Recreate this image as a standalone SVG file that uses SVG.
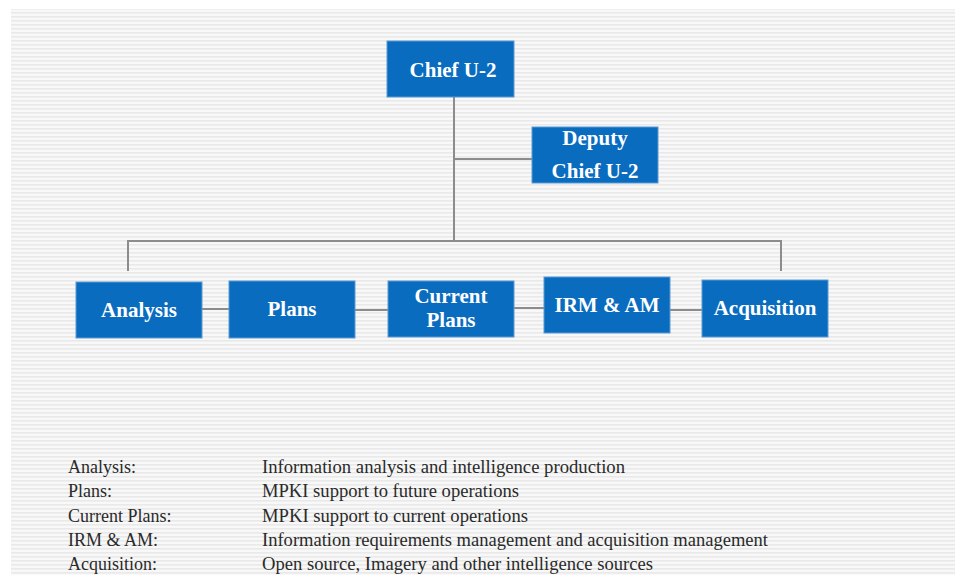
<svg xmlns="http://www.w3.org/2000/svg" width="955" height="575" viewBox="0 0 955 575">
<defs>
<pattern id="stripes" x="0" y="0" width="10" height="4" patternUnits="userSpaceOnUse">
<rect width="10" height="4" fill="#f8f8f8"/>
<rect y="0" width="10" height="1.6" fill="#e9e9e9"/>
</pattern>
</defs>
<style>
.box{fill:#0a6cbf;stroke:#5a9bd5;stroke-width:1}
.bt{font-family:"Liberation Serif","Times New Roman",serif;font-weight:bold;font-size:21px;fill:#ffffff;text-anchor:middle}
.ln{stroke:#8c8c8c;stroke-width:2;fill:none}
.lg{font-family:"Liberation Serif","Times New Roman",serif;font-size:18px;fill:#2a2a2a}
</style>
<rect width="955" height="575" fill="#ffffff"/>
<rect x="11" y="9" width="944" height="566" fill="url(#stripes)"/>
<g id="connectors">
<path class="ln" d="M454 97 V241"/>
<path class="ln" d="M454 159 H532"/>
<path class="ln" d="M128 271 V241 H781 V271"/>
<path class="ln" d="M202 309 H229"/>
<path class="ln" d="M355 310 H388"/>
<path class="ln" d="M514 308 H544"/>
<path class="ln" d="M670 310 H702"/>
</g>
<g id="chief">
<rect class="box" x="387" y="41" width="127" height="56"/>
<text class="bt" x="453" y="77">Chief U-2</text>
</g>
<g id="deputy">
<rect class="box" x="532" y="127" width="126" height="56"/>
<text class="bt" x="595" y="145">Deputy</text>
<text class="bt" x="595" y="178">Chief U-2</text>
</g>
<g id="analysis">
<rect class="box" x="76" y="282" width="126" height="56"/>
<text class="bt" x="139" y="317">Analysis</text>
</g>
<g id="plans">
<rect class="box" x="229" y="281" width="126" height="57"/>
<text class="bt" x="292" y="316">Plans</text>
</g>
<g id="current-plans">
<rect class="box" x="388" y="281" width="126" height="56"/>
<text class="bt" x="451" y="303">Current</text>
<text class="bt" x="451" y="327">Plans</text>
</g>
<g id="irm-am">
<rect class="box" x="544" y="277" width="126" height="56"/>
<text class="bt" x="607" y="312">IRM &amp; AM</text>
</g>
<g id="acquisition">
<rect class="box" x="702" y="280" width="126" height="57"/>
<text class="bt" x="765" y="315">Acquisition</text>
</g>
<g id="legend">
<text class="lg" x="68" y="473">Analysis:</text>
<text class="lg" x="262" y="473" textLength="363" lengthAdjust="spacingAndGlyphs">Information analysis and intelligence production</text>
<text class="lg" x="68" y="497">Plans:</text>
<text class="lg" x="262" y="497" textLength="257" lengthAdjust="spacingAndGlyphs">MPKI support to future operations</text>
<text class="lg" x="68" y="522">Current Plans:</text>
<text class="lg" x="262" y="522" textLength="266" lengthAdjust="spacingAndGlyphs">MPKI support to current operations</text>
<text class="lg" x="68" y="546">IRM &amp; AM:</text>
<text class="lg" x="262" y="546" textLength="506" lengthAdjust="spacingAndGlyphs">Information requirements management and acquisition management</text>
<text class="lg" x="68" y="570">Acquisition:</text>
<text class="lg" x="262" y="570" textLength="391" lengthAdjust="spacingAndGlyphs">Open source, Imagery and other intelligence sources</text>
</g>
</svg>
